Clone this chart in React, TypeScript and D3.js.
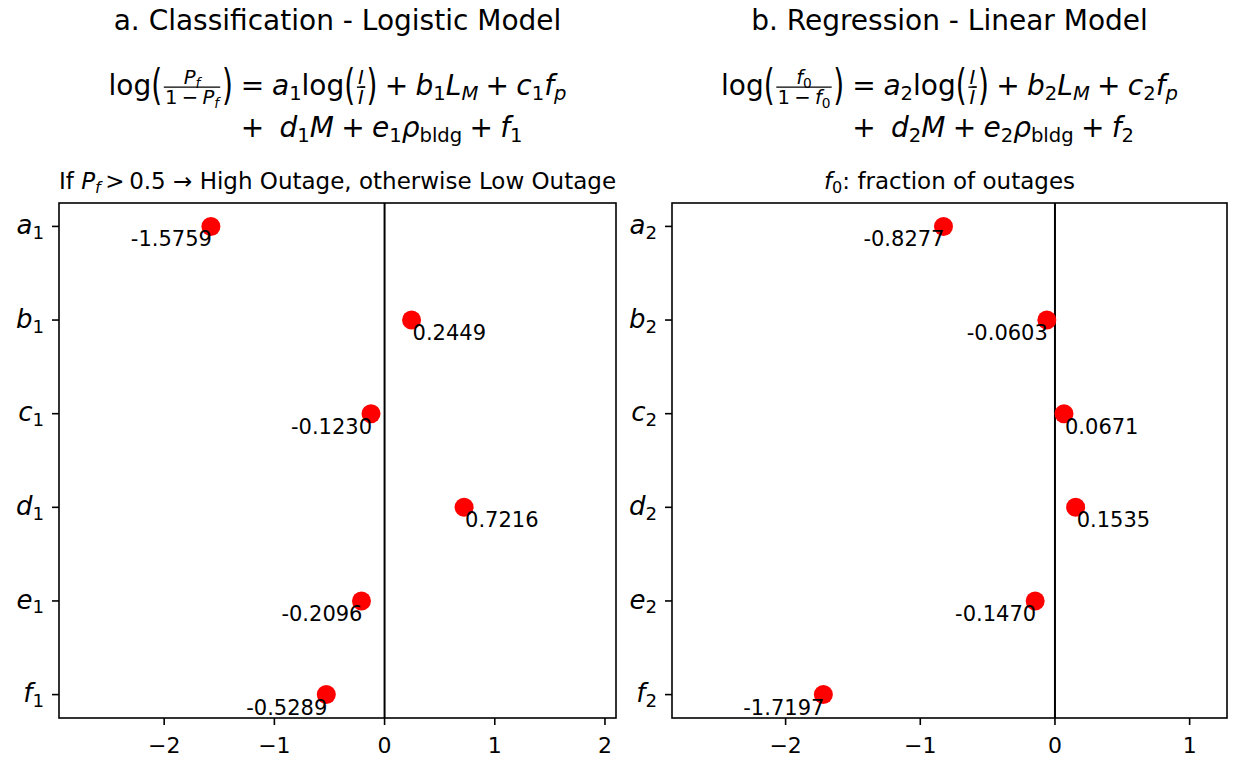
import React, { useEffect, useRef } from 'react';
import * as d3 from 'd3';

const W = 1233;
const H = 757;
const FONT = '"DejaVu Sans", sans-serif';

// ---- data ----
const coefNames = ['a', 'b', 'c', 'd', 'e', 'f'];
const logisticValues = [-1.5759, 0.2449, -0.123, 0.7216, -0.2096, -0.5289];
const linearValues = [-0.8277, -0.0603, 0.0671, 0.1535, -0.147, -1.7197];
const leftTicks = [-2, -1, 0, 1, 2];
const rightTicks = [-2, -1, 0, 1];
const leftTitle = 'a. Classification - Logistic Model';
const rightTitle = 'b. Regression - Linear Model';

type Tok =
  | { k: 't'; s: string; it?: boolean; sc?: number; dy?: number }
  | { k: 'sp'; w: number }
  | { k: 'mark'; id: string }
  | { k: 'frac'; num: Tok[]; den: Tok[] }
  | { k: 'paren'; s: string; scale: number }
  | { k: 'bar'; s: string; it?: boolean };

const SUB = 0.7;
const SUBDY = 0.18;
const t = (s: string, it = false): Tok => ({ k: 't', s, it });
const sub = (s: string, it = false): Tok => ({ k: 't', s, it, sc: SUB, dy: SUBDY });
const sp = (w: number): Tok => ({ k: 'sp', w });
const BIN = 0.26;

function renderMath(g: any, toks: Tok[], x0: number, y: number, F: number, marks: Record<string, number> = {}): number {
  let x = x0;
  for (const tk of toks) {
    if (tk.k === 't') {
      const sc = tk.sc ?? 1;
      const node = g
        .append('text')
        .attr('x', x)
        .attr('y', y + (tk.dy ?? 0) * F)
        .attr('font-size', F * sc)
        .attr('font-style', tk.it ? 'italic' : 'normal')
        .style('white-space', 'pre')
        .text(tk.s);
      x += (node.node() as SVGTextElement).getComputedTextLength();
    } else if (tk.k === 'sp') {
      x += tk.w * F;
    } else if (tk.k === 'mark') {
      marks[tk.id] = x;
    } else if (tk.k === 'frac') {
      const s = 0.7 * F;
      const gn = g.append('g');
      const wn = renderMath(gn, tk.num, 0, 0, s);
      const gd = g.append('g');
      const wd = renderMath(gd, tk.den, 0, 0, s);
      const pad = 0.1 * F;
      const w = Math.max(wn, wd) + 2 * pad;
      const axis = y - 0.28 * F;
      gn.attr('transform', `translate(${x + (w - wn) / 2},${axis - 0.1 * F})`);
      gd.attr('transform', `translate(${x + (w - wd) / 2},${axis + 0.1 * F + 0.729 * s})`);
      g.append('line')
        .attr('x1', x + pad * 0.6)
        .attr('x2', x + w - pad * 0.6)
        .attr('y1', axis)
        .attr('y2', axis)
        .attr('stroke', '#000')
        .attr('stroke-width', 0.05 * F);
      x += w;
    } else if (tk.k === 'paren') {
      const axis = y - 0.28 * F;
      const node = g
        .append('text')
        .attr('font-size', F)
        .attr('transform', `translate(${x},${axis}) scale(1,${tk.scale})`)
        .attr('y', 0.3 * F)
        .text(tk.s);
      x += (node.node() as SVGTextElement).getComputedTextLength();
    } else if (tk.k === 'bar') {
      const node = g
        .append('text')
        .attr('x', x)
        .attr('y', y)
        .attr('font-size', F)
        .attr('font-style', tk.it ? 'italic' : 'normal')
        .text(tk.s);
      const w = (node.node() as SVGTextElement).getComputedTextLength();
      const top = y - 0.88 * F;
      g.append('line')
        .attr('x1', x + 0.12 * F)
        .attr('x2', x + w + 0.08 * F)
        .attr('y1', top)
        .attr('y2', top)
        .attr('stroke', '#000')
        .attr('stroke-width', 0.07 * F);
      x += w;
    }
  }
  return x - x0;
}

function formulaLine1(k: string, lhsNum: Tok[], lhsDen: Tok[]): Tok[] {
  return [
    t('log'),
    { k: 'paren', s: '(', scale: 1.55 },
    { k: 'frac', num: lhsNum, den: lhsDen },
    { k: 'paren', s: ')', scale: 1.55 },
    sp(0.28),
    { k: 'mark', id: 'eq' },
    t('='),
    sp(0.28),
    t('a', true),
    sub(k),
    t('log'),
    { k: 'paren', s: '(', scale: 1.55 },
    { k: 'frac', num: [t('I', true)], den: [{ k: 'bar', s: 'I', it: true }] },
    { k: 'paren', s: ')', scale: 1.55 },
    sp(BIN),
    t('+'),
    sp(BIN),
    t('b', true),
    sub(k),
    t('L', true),
    sub('M', true),
    sp(BIN),
    t('+'),
    sp(BIN),
    t('c', true),
    sub(k),
    t('f', true),
    sub('p', true),
  ];
}

function formulaLine2(k: string): Tok[] {
  return [
    t('+'),
    sp(0.55),
    t('d', true),
    sub(k),
    t('M', true),
    sp(BIN),
    t('+'),
    sp(BIN),
    t('e', true),
    sub(k),
    t('ρ', true),
    sub('bldg'),
    sp(BIN),
    t('+'),
    sp(BIN),
    t('f', true),
    sub(k),
  ];
}

const leftSubtitle: Tok[] = [
  t('If'),
  sp(0.318),
  t('P', true),
  sub('f', true),
  sp(0.2),
  t('>'),
  sp(0.2),
  t('0.5'),
  sp(0.318),
  t('→'),
  sp(0.318),
  t('High Outage, otherwise Low Outage'),
];
const rightSubtitle: Tok[] = [t('f', true), sub('0'), t(':'), sp(0.318), t('fraction of outages')];

interface Panel {
  left: number;
  right: number;
  values: number[];
  ticks: number[];
  idx: string;
  title: string;
  lhsNum: Tok[];
  lhsDen: Tok[];
  subtitle: Tok[];
}

const TOP = 203;
const BOTTOM = 718;
const TITLE_F = 28;
const MATH_F = 28;
const SUBT_F = 23;
const TICK_F = 22;
const YTICK_F = 26;
const ANNOT_F = 21;

export default function App() {
  const ref = useRef<SVGSVGElement>(null);

  useEffect(() => {
    const svg = d3.select(ref.current);
    svg.selectAll('*').remove();
    const root = svg.append('g').attr('font-family', FONT).attr('fill', '#000');

    const panels: Panel[] = [
      {
        left: 59,
        right: 616,
        values: logisticValues,
        ticks: leftTicks,
        idx: '1',
        title: leftTitle,
        lhsNum: [t('P', true), sub('f', true)],
        lhsDen: [t('1'), sp(0.22), t('−'), sp(0.22), t('P', true), sub('f', true)],
        subtitle: leftSubtitle,
      },
      {
        left: 672,
        right: 1227,
        values: linearValues,
        ticks: rightTicks,
        idx: '2',
        title: rightTitle,
        lhsNum: [t('f', true), sub('0')],
        lhsDen: [t('1'), sp(0.22), t('−'), sp(0.22), t('f', true), sub('0')],
        subtitle: rightSubtitle,
      },
    ];

    panels.forEach((p) => {
      const cx = (p.left + p.right) / 2;
      const ext = d3.extent(p.values) as [number, number];
      const span = ext[1] - ext[0];
      const x = d3
        .scaleLinear()
        .domain([ext[0] - 0.6 * span, ext[1] + 0.6 * span])
        .range([p.left, p.right]);
      const y = d3
        .scaleLinear()
        .domain([-0.25, coefNames.length - 1 + 0.25])
        .range([TOP, BOTTOM]);

      // title
      root
        .append('text')
        .attr('x', cx)
        .attr('y', 30)
        .attr('text-anchor', 'middle')
        .attr('font-size', TITLE_F)
        .text(p.title);

      // formula line 1 (measure then center)
      const marks: Record<string, number> = {};
      const g1 = root.append('g');
      const w1 = renderMath(g1, formulaLine1(p.idx, p.lhsNum, p.lhsDen), 0, 0, MATH_F, marks);
      const x1 = cx - w1 / 2;
      g1.attr('transform', `translate(${x1},95)`);
      const g2 = root.append('g');
      renderMath(g2, formulaLine2(p.idx), 0, 0, MATH_F);
      g2.attr('transform', `translate(${x1 + marks.eq},137)`);

      // subtitle
      const gs = root.append('g');
      const ws = renderMath(gs, p.subtitle, 0, 0, SUBT_F);
      gs.attr('transform', `translate(${cx - ws / 2},189)`);

      // zero line
      root
        .append('line')
        .attr('x1', x(0))
        .attr('x2', x(0))
        .attr('y1', TOP)
        .attr('y2', BOTTOM)
        .attr('stroke', '#000')
        .attr('stroke-width', 2);

      // frame
      root
        .append('rect')
        .attr('x', p.left)
        .attr('y', TOP)
        .attr('width', p.right - p.left)
        .attr('height', BOTTOM - TOP)
        .attr('fill', 'none')
        .attr('stroke', '#000')
        .attr('stroke-width', 1.6);

      // x ticks
      p.ticks.forEach((v) => {
        root
          .append('line')
          .attr('x1', x(v))
          .attr('x2', x(v))
          .attr('y1', BOTTOM)
          .attr('y2', BOTTOM + 7)
          .attr('stroke', '#000')
          .attr('stroke-width', 1.6);
        root
          .append('text')
          .attr('x', x(v))
          .attr('y', 753)
          .attr('text-anchor', 'middle')
          .attr('font-size', TICK_F)
          .text(d3.format('d')(v));
      });

      // y ticks
      coefNames.forEach((n, i) => {
        root
          .append('line')
          .attr('x1', p.left - 7)
          .attr('x2', p.left)
          .attr('y1', y(i))
          .attr('y2', y(i))
          .attr('stroke', '#000')
          .attr('stroke-width', 1.6);
        const gl = root.append('g');
        const wl = renderMath(gl, [t(n, true), sub(p.idx)], 0, 0, YTICK_F);
        gl.attr('transform', `translate(${p.left - 15 - wl},${y(i) + 0.3 * YTICK_F})`);
      });

      // points + labels
      p.values.forEach((v, i) => {
        root
          .append('circle')
          .attr('cx', x(v))
          .attr('cy', y(i))
          .attr('r', 9.5)
          .attr('fill', '#ff0000');
        root
          .append('text')
          .attr('x', x(v) + 1)
          .attr('y', y(i) + 20)
          .attr('text-anchor', v < 0 ? 'end' : 'start')
          .attr('font-size', ANNOT_F)
          .text(v.toFixed(4));
      });
    });
  }, []);

  return (
    <svg
      ref={ref}
      width={W}
      height={H}
      style={{ position: 'absolute', left: 0, top: 0, background: '#fff' }}
    />
  );
}
